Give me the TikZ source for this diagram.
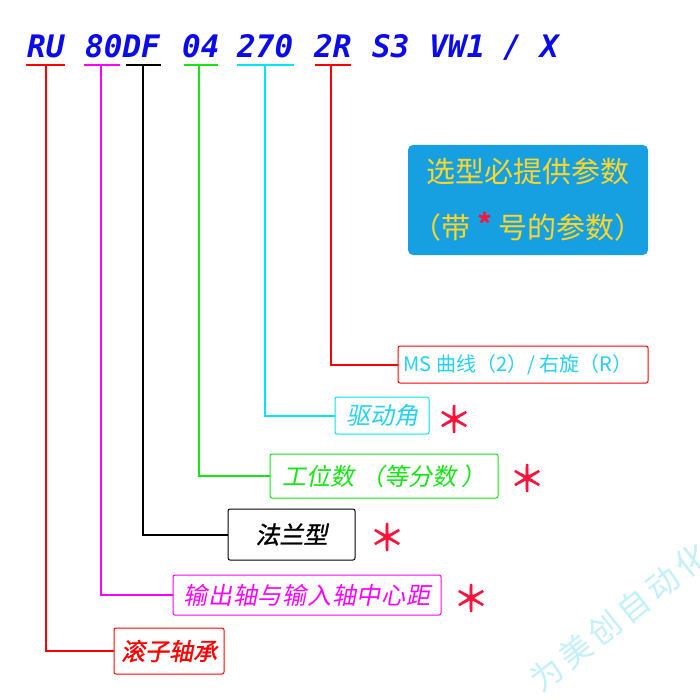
\documentclass[tikz,border=0pt]{standalone}
\usepackage{fontspec}
\setmainfont{DejaVu Sans}
\newfontfamily\codefont{DejaVu Sans Mono}
\newfontfamily\cjk{Noto Sans CJK SC}
\newfontfamily\cjki[FakeSlant=0.2]{Noto Sans CJK SC}
\newfontfamily\cjkib[FakeSlant=0.2,FakeBold=1.2]{Noto Sans CJK SC}
\newfontfamily\cjkb[FakeBold=1.5]{Noto Sans CJK SC}
\newfontfamily\wmfont[LetterSpace=15]{Noto Sans CJK SC}
\definecolor{codeblue}{RGB}{10,10,235}
\definecolor{boxblue}{RGB}{22,160,225}
\definecolor{yel}{RGB}{255,214,40}
\definecolor{lred}{RGB}{255,0,0}
\definecolor{lmag}{RGB}{255,0,255}
\definecolor{lgreen}{RGB}{20,230,20}
\definecolor{lcyan}{RGB}{0,230,245}
\definecolor{tcyan}{RGB}{35,210,240}
\definecolor{starred}{RGB}{250,20,60}
\definecolor{wm}{RGB}{195,240,250}
\tikzset{
  tok/.style={anchor=base west, inner sep=0pt, text=codeblue,
    font=\codefont\bfseries\itshape\fontsize{31}{31}\selectfont},
  ul/.style={line width=2pt},
  conn/.style={line width=2pt},
  lab/.style={draw, rounded corners=2pt, line width=1pt, inner sep=0pt,
    font=\cjki\fontsize{24}{24}\selectfont},
  starmark/.style={inner sep=0pt, text=starred,
    font=\cjkb\fontsize{36}{36}\selectfont},
}
\begin{document}
\begin{tikzpicture}[x=1pt,y=-1pt]
\useasboundingbox (0,0) rectangle (700,700);
\fill[white] (0,0) rectangle (700,700);
% code tokens
\node[tok] (t1) at (27,58) {RU};
\node[tok] (t2) at (85,58) {80DF};
\node[tok] (t3) at (182,58) {04};
\node[tok] (t4) at (237,58) {270};
\node[tok] (t5) at (314,58) {2R};
\node[tok] (t6) at (372,58) {S3};
\node[tok] (t7) at (429,58) {VW1};
\node[tok] (t8) at (503,58) {/};
\node[tok] (t9) at (540,58) {X};
% underlines
\draw[ul,lred] (26,65) -- (65,65);
\draw[ul,lmag] (84,65) -- (120,65);
\draw[ul,black] (126,65) -- (161,65);
\draw[ul,lgreen] (184,65) -- (218,65);
\draw[ul,lcyan] (237,65) -- (294,65);
\draw[ul,lred] (315,65) -- (351,65);
\coordinate (u1) at (46,65);
\coordinate (u2) at (101,65);
\coordinate (u3) at (143,65);
\coordinate (u4) at (199,65);
\coordinate (u5) at (265,65);
\coordinate (u6) at (331,65);
% info box
\node[fill=boxblue, rounded corners=5pt, minimum width=240pt, minimum height=110pt,
  inner sep=0pt, text=yel, align=center,
  font=\cjk\fontsize{29}{56}\selectfont] (info) at (528,200)
  {选型必提供参数\\（带 {\color{starred}\cjkb\fontsize{34}{34}\selectfont *} 号的参数）};
% label boxes
\node[lab, draw=lred, text=tcyan, minimum width=250pt, minimum height=37pt,
  font=\cjk\fontsize{20}{20}\selectfont] (ms) at (523,364.5) {\hspace*{-10pt}MS 曲线（2）/ 右旋（R）};
\node[lab, draw=lcyan, text=tcyan, minimum width=94pt, minimum height=37pt] (qu) at (382,415.5) {驱动角};
\node[lab, draw=lgreen, text=lgreen, minimum width=228pt, minimum height=44pt] (gw) at (384,476) {工位数 （等分数 ）};
\node[lab, draw=black, text=black, minimum width=127pt, minimum height=51pt,
  font=\cjkib\fontsize{24}{24}\selectfont] (fl) at (291.5,534.5) {法兰型};
\node[lab, draw=lmag, text=lmag, minimum width=268pt, minimum height=40pt,
  font=\cjki\addfontfeature{LetterSpace=3}\fontsize{24}{24}\selectfont] (sc) at (307,595) {输出轴与输入轴中心距};
\node[lab, draw=lred, text=lred, minimum width=110pt, minimum height=46pt,
  font=\cjkib\fontsize{24}{24}\selectfont] (gz) at (169,651) {滚子轴承};
% asterisks
\node[starmark] (s1) at (454,419) {＊};
\node[starmark] (s2) at (527,478) {＊};
\node[starmark] (s3) at (387,537) {＊};
\node[starmark] (s4) at (471,598) {＊};
% connectors
\draw[conn,lred] (u1) |- (gz.west);
\draw[conn,lmag] (u2) |- (sc.west);
\draw[conn,black] (u3) |- (fl.west);
\draw[conn,lgreen] (u4) |- (gw.west);
\draw[conn,lcyan] (u5) |- (qu.west);
\draw[conn,lred] (u6) |- (ms.west);
% watermark
\begin{scope}
\clip (0,0) rectangle (700,700);
\node[rotate=38, text=wm, inner sep=0pt, font=\wmfont\fontsize{32}{32}\selectfont] (wmk) at (619,617) {为美创自动化};
\end{scope}
\end{tikzpicture}
\end{document}
